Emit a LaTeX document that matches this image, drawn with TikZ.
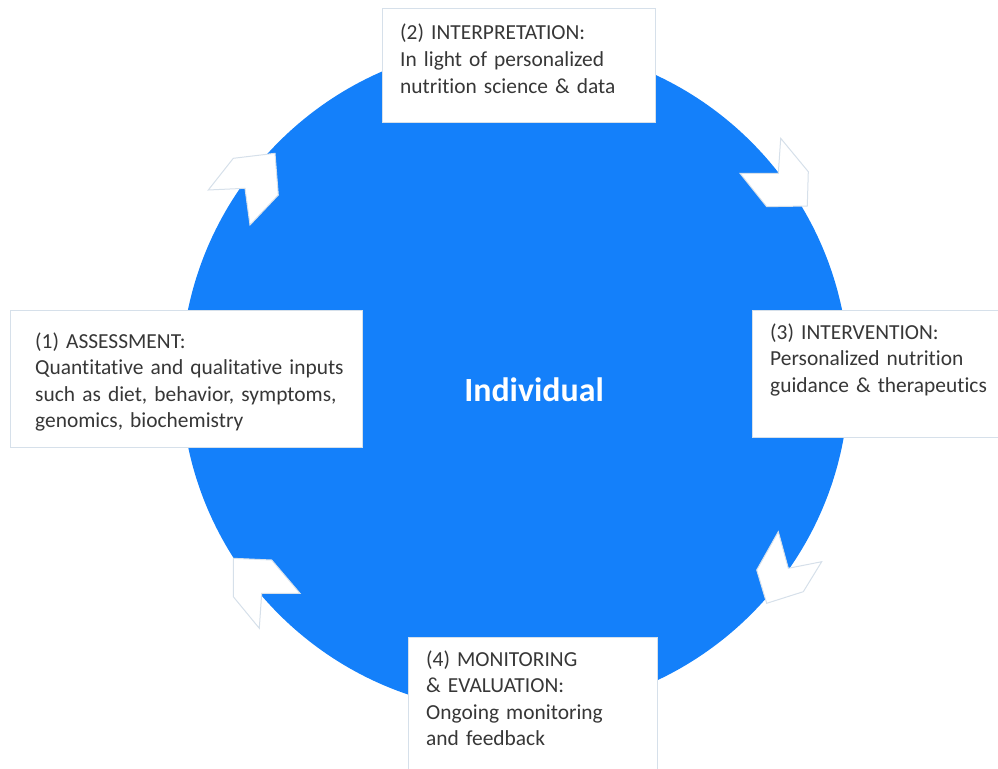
\documentclass[tikz,border=0pt]{standalone}
\usepackage{fontspec}
\setmainfont{Carlito}[Ligatures={NoCommon}]
\definecolor{cblue}{RGB}{20,128,250}
\definecolor{bordergray}{RGB}{214,224,234}
\definecolor{txtgray}{RGB}{55,55,55}
\begin{document}
\begin{tikzpicture}[x=1bp,y=-1bp,
  box/.style={draw=bordergray, line width=1bp, fill=white, rectangle, anchor=north west, inner sep=0},
  txt/.style={text=txtgray, font=\fontsize{21.5}{26.7}\selectfont, align=left, anchor=base west, inner sep=0, text width=340bp},
  chev/.style={fill=white, draw=bordergray, line width=1bp, line join=miter}]
\useasboundingbox (0,0) rectangle (998,769);
\node[circle, fill=cblue, minimum size=668bp, inner sep=0] (c) at (515,378) {};
% chevron arrows
\draw[chev] (208.3,190) -- (233.3,158.3) -- (275,153.3) -- (278.3,195) -- (250,225) -- (245,188.3) -- cycle;
\draw[chev] (780.7,138.3) -- (808.3,171.7) -- (807.3,206) -- (766.7,206.7) -- (740,173.3) -- (778.3,173.3) -- cycle;
\draw[chev] (778.3,531.7) -- (788.3,568.3) -- (821.7,561.7) -- (803.3,591.7) -- (766.7,603.3) -- (756.7,570) -- cycle;
\draw[chev] (233.3,558.3) -- (271.7,560) -- (300,593.3) -- (261.7,593.3) -- (259.3,628.3) -- (233.3,596.7) -- cycle;
% boxes
\node[box, minimum width=273bp, minimum height=114bp] (b2) at (382,8) {};
\node[box, minimum width=352bp, minimum height=137bp] (b1) at (10,310) {};
\node[box, minimum width=260bp, minimum height=127bp] (b3) at (752,310) {};
\node[box, minimum width=249bp, minimum height=150bp] (b4) at (408,637) {};
% texts
\node[txt] (t2) at (400,40) {(2) INTERPRETATION:\\In light of personalized\\nutrition science \& data};
\node[txt] (t1) at (35,348) {(1) ASSESSMENT:\\Quantitative and qualitative inputs\\such as diet, behavior, symptoms,\\genomics, biochemistry};
\node[txt] (t3) at (770,339) {(3) INTERVENTION:\\Personalized nutrition\\guidance \& therapeutics};
\node[txt] (t4) at (426,666) {(4) MONITORING\\\& EVALUATION:\\Ongoing monitoring\\and feedback};
\node[font=\fontsize{34}{40}\selectfont\bfseries, text=white, inner sep=0] (ind) at (534,390) {Individual};
\end{tikzpicture}
\end{document}
